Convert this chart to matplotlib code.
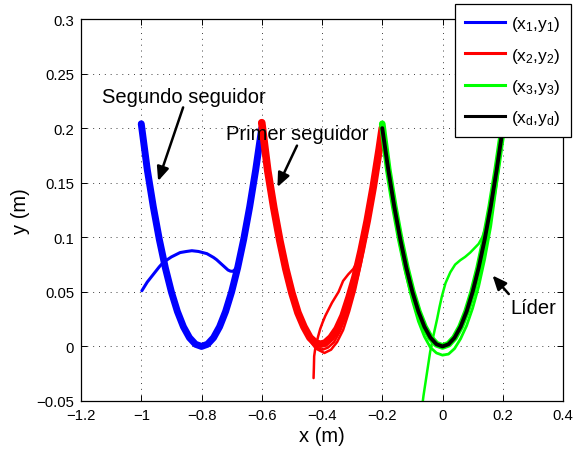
import matplotlib
matplotlib.use("Agg")
import matplotlib.pyplot as plt
from matplotlib.lines import Line2D

plt.rcParams['font.family'] = ['Liberation Sans', 'DejaVu Sans']
plt.rcParams['mathtext.default'] = 'regular'
plt.rcParams['axes.unicode_minus'] = True

# ---- leader reference trajectory (x_d, y_d) ----
leader_x = [-0.20, -0.18, -0.16, -0.14, -0.12, -0.10, -0.08, -0.06, -0.04, -0.02, 0.00,
            0.02, 0.04, 0.06, 0.08, 0.10, 0.12, 0.14, 0.16, 0.18, 0.20]
leader_y = [0.200, 0.162, 0.128, 0.098, 0.072, 0.050, 0.032, 0.018, 0.008, 0.002, 0.000,
            0.002, 0.008, 0.018, 0.032, 0.050, 0.072, 0.098, 0.128, 0.162, 0.200]

# ---- follower 1 (x_1, y_1): second follower, blue ----
blue_orbit_x = [-1.00, -0.98, -0.96, -0.94, -0.92, -0.90, -0.88, -0.86, -0.84, -0.82, -0.80,
                -0.78, -0.76, -0.74, -0.72, -0.70, -0.68, -0.66, -0.64, -0.62, -0.60]
blue_orbit_y = [0.204, 0.162, 0.128, 0.098, 0.072, 0.050, 0.032, 0.018, 0.008, 0.002, 0.000,
                0.002, 0.008, 0.018, 0.032, 0.050, 0.072, 0.098, 0.128, 0.162, 0.200]
blue_start_x = [-0.998, -0.980, -0.960, -0.940, -0.927, -0.900, -0.871, -0.850, -0.832, -0.810,
                -0.782, -0.760, -0.750, -0.740, -0.730, -0.720, -0.712, -0.704, -0.697,
                -0.691, -0.686, -0.680, -0.670, -0.660]
blue_start_y = [0.051, 0.059, 0.066, 0.073, 0.077, 0.082, 0.086, 0.087, 0.0877, 0.087,
                0.085, 0.0815, 0.0795, 0.077, 0.0745, 0.072, 0.070, 0.069, 0.0688,
                0.0698, 0.0715, 0.074, 0.084, 0.096]

# ---- follower 2 (x_2, y_2): first follower, red ----
red_orbit_a_x = [-0.60, -0.58, -0.56, -0.54, -0.52, -0.50, -0.48, -0.46, -0.44, -0.42, -0.405,
                 -0.39, -0.37, -0.35, -0.33, -0.31, -0.29, -0.27, -0.25, -0.23, -0.21, -0.20]
red_orbit_a_y = [0.205, 0.161, 0.127, 0.097, 0.071, 0.049, 0.031, 0.018, 0.008, 0.003, 0.002,
                 0.003, 0.008, 0.016, 0.028, 0.045, 0.064, 0.088, 0.115, 0.146, 0.181, 0.200]
red_orbit_b_x = [-0.60, -0.58, -0.56, -0.54, -0.52, -0.50, -0.48, -0.46, -0.44, -0.42, -0.398,
                 -0.38, -0.36, -0.34, -0.32, -0.30, -0.28, -0.26, -0.24, -0.22, -0.20]
red_orbit_b_y = [0.200, 0.162, 0.128, 0.097, 0.071, 0.049, 0.030, 0.016, 0.006, -0.001, -0.003,
                 -0.001, 0.004, 0.014, 0.029, 0.047, 0.069, 0.096, 0.126, 0.161, 0.200]
red_orbit_c_x = [-0.60, -0.58, -0.56, -0.54, -0.52, -0.50, -0.48, -0.46, -0.44, -0.42, -0.392,
                 -0.37, -0.35, -0.33, -0.31, -0.29, -0.27, -0.25, -0.23, -0.21, -0.20]
red_orbit_c_y = [0.200, 0.162, 0.128, 0.098, 0.072, 0.050, 0.031, 0.016, 0.005, -0.002, -0.006,
                 -0.003, 0.004, 0.015, 0.032, 0.052, 0.077, 0.107, 0.141, 0.179, 0.200]
red_start_x = [-0.428, -0.427, -0.426, -0.423, -0.419, -0.413, -0.406, -0.398, -0.389, -0.378,
               -0.367, -0.356, -0.345, -0.330, -0.313, -0.296, -0.286, -0.278, -0.270, -0.262, -0.255]
red_start_y = [-0.029, -0.020, -0.009, -0.003, 0.002, 0.009, 0.016, 0.022, 0.028, 0.034,
               0.040, 0.045, 0.050, 0.060, 0.066, 0.071, 0.076, 0.083, 0.090, 0.100, 0.110]

# ---- follower 3 (x_3, y_3): green ----
green_orbit_x = [-0.20, -0.18, -0.16, -0.14, -0.12, -0.10, -0.08, -0.06, -0.04, -0.02, 0.00,
                 0.02, 0.04, 0.06, 0.08, 0.10, 0.12, 0.14, 0.16, 0.18, 0.20]
green_orbit_y = [0.204, 0.162, 0.128, 0.098, 0.072, 0.050, 0.032, 0.018, 0.008, 0.002, 0.000,
                 0.002, 0.008, 0.018, 0.032, 0.050, 0.072, 0.098, 0.128, 0.162, 0.200]
green_loop_x = [-0.20, -0.18, -0.16, -0.14, -0.12, -0.10, -0.08, -0.06, -0.04, -0.02, 0.00,
                0.02, 0.04, 0.06, 0.08, 0.10, 0.12, 0.14, 0.16, 0.18, 0.20]
green_loop_y = [0.200, 0.160, 0.124, 0.092, 0.065, 0.042, 0.023, 0.009, -0.001, -0.006, -0.008,
                -0.007, -0.002, 0.007, 0.019, 0.035, 0.055, 0.080, 0.110, 0.150, 0.197]
green_start_x = [-0.070, -0.063, -0.052, -0.041, -0.030, -0.018, -0.010, -0.002, 0.010, 0.026,
                 0.042, 0.059, 0.075, 0.092, 0.106, 0.120, 0.132, 0.142, 0.151, 0.159, 0.166]
green_start_y = [-0.060, -0.045, -0.025, -0.005, 0.010, 0.025, 0.036, 0.046, 0.058, 0.068,
                 0.075, 0.079, 0.082, 0.086, 0.090, 0.094, 0.100, 0.108, 0.117, 0.126, 0.136]

legend_labels = [r'$(x_1{,}y_1)$', r'$(x_2{,}y_2)$', r'$(x_3{,}y_3)$', r'$(x_d{,}y_d)$']
x_ticks = [-1.2, -1.0, -0.8, -0.6, -0.4, -0.2, 0.0, 0.2, 0.4]
x_tick_labels = ['\u22121.2', '\u22121', '\u22120.8', '\u22120.6', '\u22120.4', '\u22120.2', '0', '0.2', '0.4']
y_ticks = [-0.05, 0.0, 0.05, 0.1, 0.15, 0.2, 0.25, 0.3]
y_tick_labels = ['\u22120.05', '0', '0.05', '0.1', '0.15', '0.2', '0.25', '0.3']

BLUE, RED, GREEN, BLACK = (0, 0, 1), (1, 0, 0), (0, 1, 0), (0, 0, 0)

fig = plt.figure(figsize=(5.77, 4.52), dpi=100)
ax = fig.add_axes([81 / 577, 50 / 452, 482 / 577, 382 / 452])

kw = dict(solid_capstyle='round', solid_joinstyle='round')
# blue follower
ax.plot(blue_start_x, blue_start_y, color=BLUE, lw=2.2, **kw)
ax.plot(blue_orbit_x, blue_orbit_y, color=BLUE, lw=5.0, **kw)
# red follower
ax.plot(red_start_x, red_start_y, color=RED, lw=1.8, **kw)
ax.plot(red_orbit_b_x, red_orbit_b_y, color=RED, lw=1.8, **kw)
ax.plot(red_orbit_c_x, red_orbit_c_y, color=RED, lw=1.8, **kw)
ax.plot(red_orbit_a_x, red_orbit_a_y, color=RED, lw=5.5, **kw)
# green follower
ax.plot(green_start_x, green_start_y, color=GREEN, lw=1.8, **kw)
ax.plot(green_loop_x, green_loop_y, color=GREEN, lw=2.0, **kw)
ax.plot(green_orbit_x, green_orbit_y, color=GREEN, lw=4.8, **kw)
# leader
ax.plot(leader_x, leader_y, color=BLACK, lw=2.8, **kw)

ax.set_xlim(-1.2, 0.4)
ax.set_ylim(-0.05, 0.3)
ax.set_xticks(x_ticks)
ax.set_xticklabels(x_tick_labels)
ax.set_yticks(y_ticks)
ax.set_yticklabels(y_tick_labels)
ax.tick_params(direction='in', length=4, width=0.7, top=True, right=True,
               labelsize=10.7, pad=5)
for s in ax.spines.values():
    s.set_linewidth(0.9)
ax.grid(True, color='0.25', linewidth=0.7, linestyle=(0, (1, 5)))

ax.set_xlabel('x (m)', fontsize=14.5)
ax.set_ylabel('y (m)', fontsize=14.5)
ax.xaxis.set_label_coords(0.5, -0.066)
ax.yaxis.set_label_coords(-0.106, 0.5)

# annotations
arrow = dict(arrowstyle='-|>,head_length=0.7,head_width=0.3', lw=1.8, color='k',
             shrinkA=0, shrinkB=0, mutation_scale=12)
ax.text(-0.859, 0.2294, 'Segundo seguidor', fontsize=14.5, ha='center', va='center')
ax.annotate('', xy=(-0.944, 0.1515), xytext=(-0.861, 0.219), arrowprops=arrow)
ax.text(-0.482, 0.1955, 'Primer seguidor', fontsize=14.5, ha='center', va='center')
ax.annotate('', xy=(-0.548, 0.146), xytext=(-0.483, 0.184), arrowprops=arrow)
ax.text(0.302, 0.036, 'L\u00edder', fontsize=14.5, ha='center', va='center')
ax.annotate('', xy=(0.166, 0.065), xytext=(0.220, 0.048), arrowprops=arrow)

handles = [Line2D([], [], color=c, lw=2.2) for c in (BLUE, RED, GREEN, BLACK)]
leg = ax.legend(handles, legend_labels, loc='upper right',
                bbox_to_anchor=(571 / 577, 1 - 5 / 452), bbox_transform=fig.transFigure,
                borderaxespad=0, fontsize=12.5, handlelength=2.3, handletextpad=0.35,
                labelspacing=0.7, borderpad=0.6, fancybox=False, framealpha=1,
                edgecolor='k')
leg.get_frame().set_linewidth(0.9)

fig.savefig('out.png', dpi=100)
